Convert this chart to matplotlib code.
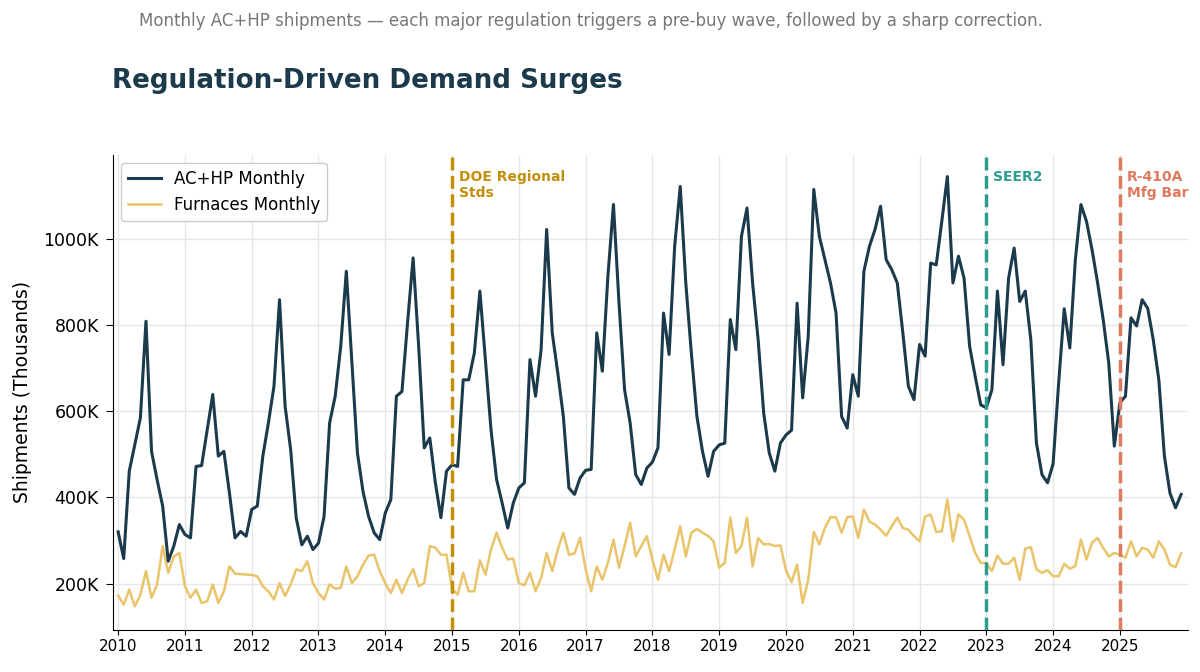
import matplotlib
matplotlib.use("Agg")
import matplotlib.pyplot as plt
from matplotlib.ticker import FuncFormatter

# monthly values, Jan 2010 .. Dec 2025 (thousands of units)
ac_hp = [
    320, 258, 461, 523, 585, 809, 507, 441, 380, 252, 287, 337,   # 2010
    314, 306, 472, 474, 557, 639, 496, 507, 410, 306, 321, 310,   # 2011
    372, 380, 496, 573, 658, 859, 612, 511, 352, 290, 310, 279,   # 2012
    294, 356, 573, 635, 751, 925, 712, 503, 414, 356, 318, 302,   # 2013
    364, 395, 635, 646, 805, 956, 751, 515, 538, 434, 353, 461,   # 2014
    476, 472, 673, 673, 735, 879, 718, 557, 442, 387, 329, 387,   # 2015
    422, 434, 720, 635, 743, 1022, 782, 689, 588, 422, 407, 445,  # 2016
    463, 465, 782, 693, 913, 1080, 851, 650, 573, 453, 430, 468,  # 2017
    482, 515, 828, 732, 983, 1122, 898, 735, 588, 507, 449, 507,  # 2018
    522, 526, 813, 743, 1006, 1072, 898, 766, 596, 503, 461, 526, # 2019
    545, 556, 851, 631, 774, 1115, 1006, 952, 898, 828, 588, 561, # 2020
    685, 635, 925, 983, 1022, 1076, 952, 929, 898, 782, 658, 627, # 2021
    755, 728, 944, 940, 1041, 1145, 898, 960, 909, 751, 681, 615, # 2022
    608, 650, 879, 708, 909, 979, 855, 879, 766, 527, 453, 434,   # 2023
    478, 666, 838, 747, 952, 1080, 1041, 975, 898, 813, 712, 519, # 2024
    620, 635, 817, 798, 859, 839, 766, 673, 496, 410, 376, 407,   # 2025
]
furnaces = [
    172, 151, 186, 147, 174, 229, 167, 198, 287, 225, 263, 271,
    194, 167, 186, 155, 159, 198, 155, 182, 240, 223, 222, 221,
    220, 217, 194, 182, 163, 201, 171, 198, 233, 229, 252, 201,
    178, 163, 198, 188, 190, 240, 201, 217, 244, 265, 267, 229,
    200, 178, 209, 178, 209, 234, 194, 201, 287, 283, 267, 267,
    188, 174, 225, 182, 182, 254, 221, 279, 318, 283, 256, 258,
    201, 196, 225, 182, 213, 271, 229, 279, 318, 267, 270, 306,
    233, 182, 240, 209, 248, 302, 237, 287, 341, 263, 287, 310,
    256, 209, 267, 229, 279, 333, 263, 318, 327, 318, 311, 298,
    237, 248, 353, 271, 287, 353, 240, 306, 291, 292, 287, 289,
    231, 203, 244, 155, 209, 320, 291, 329, 354, 354, 318, 354,
    356, 306, 372, 344, 337, 325, 311, 333, 353, 329, 325, 310,
    298, 356, 360, 320, 321, 395, 298, 361, 348, 310, 271, 248,
    248, 229, 265, 246, 246, 260, 209, 281, 285, 233, 225, 231,
    217, 217, 246, 234, 241, 302, 256, 295, 306, 283, 263, 271,
    267, 260, 298, 263, 283, 279, 260, 298, 279, 244, 238, 270,
]
years = [2010 + i / 12 for i in range(len(ac_hp))]

reg_years = [2015, 2023, 2025]
reg_labels = ["DOE Regional\nStds", "SEER2", "R-410A\nMfg Bar"]
reg_colors = ["#C18F0A", "#2A9D8F", "#E07A5F"]

dark = "#1B3A4B"
gold = "#E9C46A"

fig = plt.figure(figsize=(12, 6.72), dpi=100)
ax = fig.add_axes([0.094, 0.063, 0.896, 0.707])

ax.plot(years, ac_hp, color=dark, lw=2.2, label="AC+HP Monthly", zorder=3)
ax.plot(years, furnaces, color=gold, lw=1.8, label="Furnaces Monthly", zorder=2)

for yr, lab, col in zip(reg_years, reg_labels, reg_colors):
    ax.axvline(yr, color=col, ls="--", lw=2.5, zorder=4)
    ax.text(yr + 0.1, 1160, lab, color=col, fontsize=10, fontweight="bold",
            va="top", ha="left")

ax.set_xlim(2009.92, 2026.02)
ax.set_ylim(93, 1196)
ax.set_xticks(range(2010, 2026))
ax.set_yticks([200, 400, 600, 800, 1000])
ax.yaxis.set_major_formatter(FuncFormatter(lambda v, p: f"{v:.0f}K"))
ax.tick_params(axis="x", labelsize=11)
ax.tick_params(axis="y", labelsize=12.5, length=5, pad=5)
ax.grid(True, color="#e6e6e6", lw=1)
ax.set_axisbelow(True)
for s in ["top", "right"]:
    ax.spines[s].set_visible(False)
ax.set_ylabel("Shipments (Thousands)", fontsize=13.5, labelpad=8)

ax.legend(loc="upper left", fontsize=12, framealpha=1, edgecolor="#cccccc")

fig.text(0.093, 0.88, "Regulation-Driven Demand Surges", fontsize=18.8,
         fontweight="bold", color=dark, va="center")
fig.text(0.116, 0.969, "Monthly AC+HP shipments \u2014 each major regulation triggers "
         "a pre-buy wave, followed by a sharp correction.",
         fontsize=12, color="#777777", va="center")

fig.savefig("out.png", dpi=100)
